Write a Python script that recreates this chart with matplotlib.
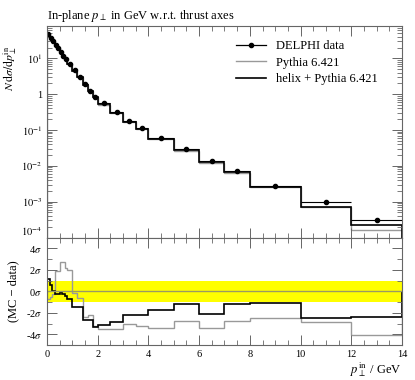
import numpy as np
import matplotlib
matplotlib.use("Agg")
import matplotlib.pyplot as plt
from matplotlib.lines import Line2D
from matplotlib.ticker import FixedLocator, FixedFormatter, MultipleLocator, LogLocator, NullFormatter

plt.rcParams['font.family'] = ['Liberation Serif', 'DejaVu Serif']
plt.rcParams['mathtext.fontset'] = 'stix'
plt.rcParams['font.size'] = 8

# ---- data ----
edges = [0.0, 0.1, 0.2, 0.3, 0.4, 0.5, 0.6, 0.7, 0.8, 1.0, 1.2, 1.4, 1.6, 1.8, 2.0,
         2.5, 3.0, 3.5, 4.0, 5.0, 6.0, 7.0, 8.0, 10.0, 12.0, 14.0]
data = [48, 38, 30, 24, 19, 15, 12, 9.7, 7.0, 4.6, 3.0, 1.9, 1.25, 0.85,
        0.55, 0.31, 0.18, 0.112, 0.060, 0.029, 0.0137, 0.0071, 0.00274, 0.00098, 0.000305]
data_err = [0.3, 0.25, 0.2, 0.15, 0.12, 0.1, 0.08, 0.06, 0.04, 0.03, 0.02, 0.012, 0.008, 0.006,
            0.004, 0.0025, 0.0015, 0.001, 0.0006, 0.0004, 0.0002, 0.00012, 0.00006, 0.00003, 0.00002]
helix = [48.5, 38.2, 30.0, 23.9, 18.9, 14.95, 11.95, 9.65, 6.95, 4.5, 2.93, 1.82, 1.2, 0.81,
         0.52, 0.295, 0.172, 0.106, 0.057, 0.0275, 0.0128, 0.0067, 0.00262, 0.00072, 0.00022]
pythia = [47.6, 37.8, 29.9, 24.3, 19.3, 15.4, 12.3, 9.9, 7.15, 4.58, 2.95, 1.81, 1.19, 0.81,
          0.515, 0.29, 0.170, 0.104, 0.055, 0.0260, 0.0122, 0.0064, 0.00255, 0.00070, 0.000165]
# deviations (MC - data)/sigma
helix_dev = [1.1, 0.6, 0.0, -0.3, -0.3, -0.1, -0.3, -0.4, -0.7, -1.5, -1.5, -2.7, -2.7, -3.3,
             -3.1, -2.9, -2.2, -2.2, -1.7, -1.2, -2.1, -1.2, -1.1, -2.5, -2.4]
pythia_dev = [-0.7, -0.5, -0.3, 1.9, 1.9, 2.7, 2.7, 2.2, 2.0, -0.2, -0.6, -2.4, -2.2, -3.2,
              -3.5, -3.5, -3.0, -3.2, -3.4, -2.8, -3.45, -2.8, -2.5, -2.9, -4.1]

title = r"In-plane $p_\perp$ in GeV w.r.t. thrust axes"
ylab = r"$N\,\mathrm{d}\sigma/\mathrm{d}p_\perp^\mathrm{in}$"
xlab = r"$p_\perp^\mathrm{in}$ / GeV"
labels = ["DELPHI data", "Pythia 6.421", "helix + Pythia 6.421"]
ratio_ticks = [-4, -2, 0, 2, 4]
ratio_ticklabels = [r"-4$\sigma$", r"-2$\sigma$", r"0$\sigma$", r"2$\sigma$", r"4$\sigma$"]
log_ticks = [1e-4, 1e-3, 1e-2, 1e-1, 1, 10]
log_ticklabels = [r"$10^{-4}$", r"$10^{-3}$", r"$10^{-2}$", r"$10^{-1}$", "1", r"$10^{1}$"]

edges_a = np.array(edges)
centers = 0.5 * (edges_a[1:] + edges_a[:-1])
halfw = 0.5 * (edges_a[1:] - edges_a[:-1])

fig = plt.figure(figsize=(4.15, 3.8), dpi=100)
L, R = 47 / 415, 402 / 415
ax = fig.add_axes([L, 1 - 237.5 / 380, R - L, (237.5 - 26) / 380])
axr = fig.add_axes([L, 1 - 345 / 380, R - L, (345 - 237.5) / 380])

GRAY = '#999999'
SP = '#666666'

ax.stairs(pythia, edges, color=GRAY, lw=1.0)
ax.stairs(helix, edges, color='black', lw=1.2)
ax.errorbar(centers, data, xerr=halfw, yerr=data_err, fmt='o', ms=3, color='black',
            lw=0.8, capsize=0)
ax.set_yscale('log')
ax.set_xlim(0, 14)
ax.set_ylim(1e-4, 80)
ax.yaxis.set_major_locator(FixedLocator(log_ticks))
ax.yaxis.set_major_formatter(FixedFormatter(log_ticklabels))
ax.yaxis.set_minor_locator(LogLocator(base=10, subs=np.arange(2, 10)))
ax.yaxis.set_minor_formatter(NullFormatter())
ax.xaxis.set_major_locator(MultipleLocator(2))
ax.xaxis.set_minor_locator(MultipleLocator(0.5))
ax.tick_params(labelbottom=False)
ax.set_ylabel(ylab, fontsize=8.5)
ax.yaxis.set_label_coords(-0.078, 0.80)
ax.set_title(title, loc='left', fontsize=9, pad=5)

handles = [Line2D([], [], color='black', lw=0.9, marker='o', ms=3),
           Line2D([], [], color=GRAY, lw=1.0),
           Line2D([], [], color='black', lw=1.2)]
ax.legend(handles, labels, loc='upper left', bbox_to_anchor=(0.50, 0.985),
          frameon=False, fontsize=9, handlelength=2.4, handletextpad=0.8,
          labelspacing=0.35)

axr.axhspan(-1, 1, color='#ffff00', lw=0)
axr.axhline(0, color='#999966', lw=1.0)
axr.stairs(pythia_dev, edges, color=GRAY, lw=1.0)
axr.stairs(helix_dev, edges, color='black', lw=1.2)
axr.set_xlim(0, 14)
axr.set_ylim(-5, 5)
axr.yaxis.set_major_locator(FixedLocator(ratio_ticks))
axr.yaxis.set_major_formatter(FixedFormatter(ratio_ticklabels))
axr.yaxis.set_minor_locator(MultipleLocator(1))
axr.xaxis.set_major_locator(MultipleLocator(2))
axr.xaxis.set_minor_locator(MultipleLocator(0.5))
axr.set_ylabel("(MC − data)", fontsize=9)
axr.yaxis.set_label_coords(-0.078, 0.5)
axr.set_xlabel(xlab, fontsize=9, loc='right', labelpad=1)

for a in (ax, axr):
    a.tick_params(which='both', direction='in', top=True, right=True, colors=SP,
                  labelcolor='black', labelsize=7.5)
    a.tick_params(which='major', length=7, width=0.7)
    a.tick_params(which='minor', length=3.5, width=0.6)
    for s in a.spines.values():
        s.set_color(SP)
        s.set_linewidth(0.8)
# keep the lowest main-panel label clear of the ratio panel's top label
ax.get_yticklabels()[0].set_verticalalignment('bottom')

fig.savefig("out.png", dpi=100)
